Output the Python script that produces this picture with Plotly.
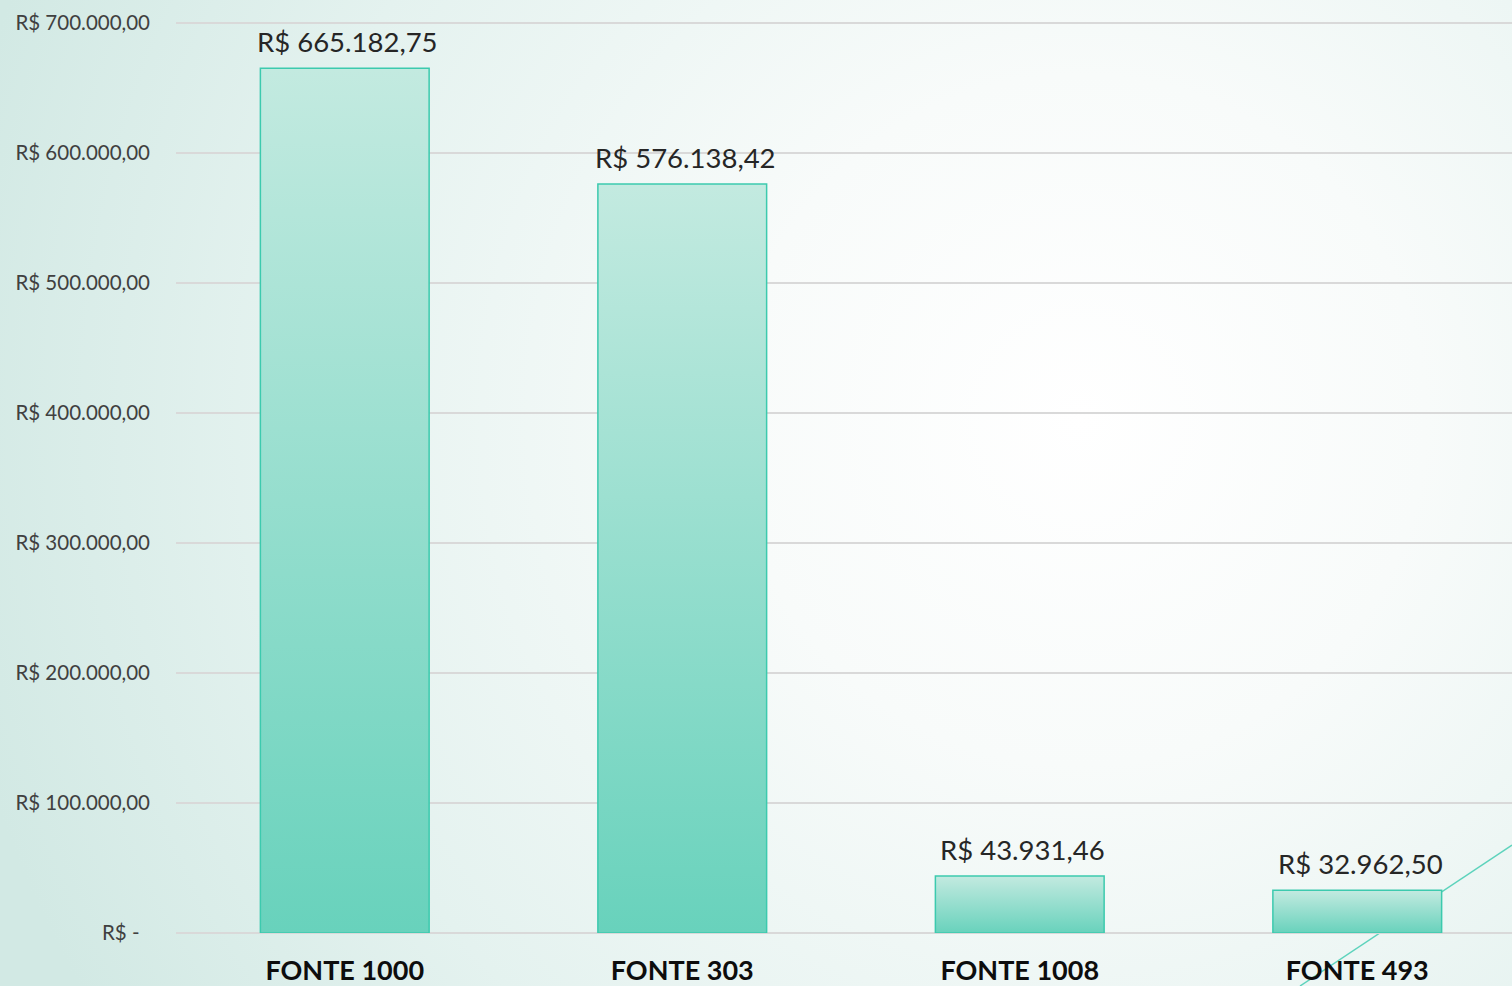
import base64
import plotly.graph_objects as go

# ---- data ----
categories = ["FONTE 1000", "FONTE 303", "FONTE 1008", "FONTE 493"]
values = [665182.75, 576138.42, 43931.46, 32962.50]
value_labels = ["R$ 665.182,75", "R$ 576.138,42", "R$ 43.931,46", "R$ 32.962,50"]
y_tickvals = [0, 100000, 200000, 300000, 400000, 500000, 600000, 700000]
y_ticktext = ["R$ -&nbsp;&nbsp;", "R$ 100.000,00", "R$ 200.000,00", "R$ 300.000,00",
              "R$ 400.000,00", "R$ 500.000,00", "R$ 600.000,00", "R$ 700.000,00"]

W, H = 1512, 986
ML, MR, MT, MB = 176, 0, 20, 53
BAR_W = 0.5
FONT = "Lato"

fig = go.Figure()

for i, (cat, v) in enumerate(zip(categories, values)):
    x0, x1 = i - BAR_W / 2, i + BAR_W / 2
    fig.add_trace(go.Scatter(
        x=[x0, x0, x1, x1, x0],
        y=[0, v, v, 0, 0],
        mode="lines",
        fill="toself",
        fillgradient=dict(type="vertical",
                          colorscale=[[0, "#68D2BC"], [1, "#C3EAE0"]]),
        line=dict(color="#3CCAAE", width=1.5),
        hoverinfo="text",
        text=f"{cat}: {value_labels[i]}",
        showlegend=False,
    ))
    fig.add_annotation(
        x=i, y=v, xref="x", yref="y", text=value_labels[i],
        showarrow=False, yanchor="bottom", yshift=8, xshift=3,
        font=dict(family=FONT, size=27.5, color="#262626"),
    )

# background radial gradient (decorative)
svg = f'''<svg xmlns="http://www.w3.org/2000/svg" width="{W}" height="{H}" viewBox="0 0 {W} {H}" preserveAspectRatio="none">
<defs><radialGradient id="g" gradientUnits="userSpaceOnUse" cx="1080" cy="420" r="1150">
<stop offset="0" stop-color="#FFFFFF"/><stop offset="0.3" stop-color="#F8FBFA"/>
<stop offset="0.7" stop-color="#E4F2EF"/><stop offset="1" stop-color="#D2E9E4"/></radialGradient></defs>
<rect x="0" y="0" width="{W}" height="{H}" fill="url(#g)"/></svg>'''
src = "data:image/svg+xml;base64," + base64.b64encode(svg.encode()).decode()
pw, ph = W - ML - MR, H - MT - MB
fig.add_layout_image(dict(
    source=src, xref="paper", yref="paper",
    x=-ML / pw, y=1 + MT / ph, sizex=W / pw, sizey=H / ph,
    xanchor="left", yanchor="top", sizing="stretch", layer="below",
))

# decorative diagonal line
fig.add_shape(type="line", xref="paper", yref="paper",
              x0=1.0, y0=(H - MB - 845) / ph, x1=(1300 - ML) / pw, y1=-(MB) / ph,
              line=dict(color="#5DD3BC", width=1.5), layer="below")

ymax = 700000 * ph / (ph - 3)

fig.update_layout(
    width=W, height=H,
    margin=dict(l=ML, r=MR, t=MT, b=MB),
    paper_bgcolor="#E8F3F1",
    plot_bgcolor="rgba(0,0,0,0)",
    showlegend=False,
    font=dict(family=FONT),
    xaxis=dict(
        tickvals=list(range(len(categories))),
        ticktext=[f"<b>{c}</b>" for c in categories],
        range=[-0.5, len(categories) - 0.5 - 14 / 337.5],
        showgrid=False, zeroline=False, showline=False, ticks="",
        ticklabelstandoff=19,
        tickfont=dict(family=FONT, size=27, color="#0D0D0D"),
        fixedrange=True,
    ),
    yaxis=dict(
        range=[0, ymax],
        tickvals=y_tickvals, ticktext=y_ticktext,
        showgrid=True, gridcolor="#D9D9D9", gridwidth=1.5,
        zeroline=True, zerolinecolor="#D9D9D9", zerolinewidth=1.5,
        showline=False, ticks="",
        ticklabelstandoff=25,
        tickfont=dict(family=FONT, size=20.5, color="#404040"),
        fixedrange=True,
    ),
)

fig.write_html("out.html", config={"displayModeBar": False},
               post_script="document.body.style.margin='0';document.body.style.overflow='hidden';")
